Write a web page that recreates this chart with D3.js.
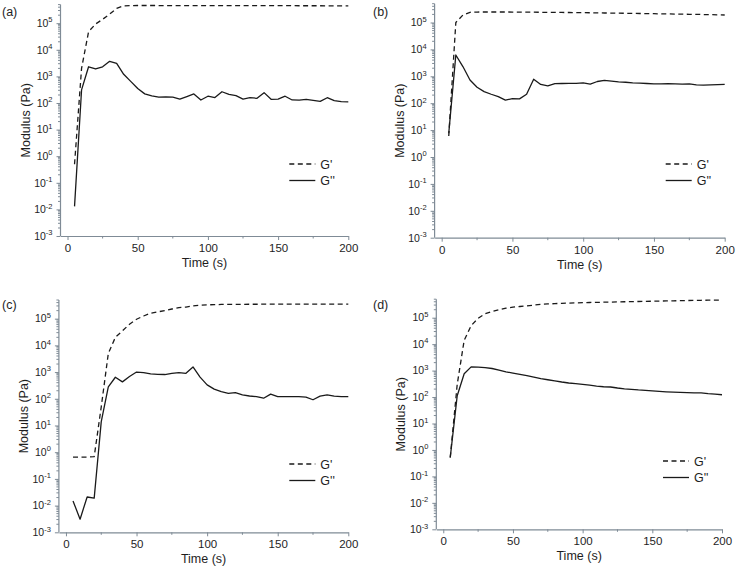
<!DOCTYPE html>
<html>
<head>
<meta charset="utf-8">
<script src="https://cdn.jsdelivr.net/npm/d3@7"></script>
<style>
  html, body { margin: 0; padding: 0; background: #ffffff; }
  svg { display: block; font-family: "Liberation Sans", Arial, sans-serif; }
</style>
</head>
<body>
<svg id="chart" width="737" height="570"></svg>
<script>
// ---- data (time in s, modulus in Pa) ----
const times = [5,10,15,20,25,30,35,40,45,50,55,60,65,70,75,80,85,90,95,100,
               105,110,115,120,125,130,135,140,145,150,155,160,165,170,175,180,185,190,195,200];

const panelLabels = ["(a)", "(b)", "(c)", "(d)"];
const seriesNames = ["G'", "G''"];
const xTickValues = [0, 50, 100, 150, 200];
const xMinorTicks = [25, 75, 125, 175];
const yTickExponents = [-3, -2, -1, 0, 1, 2, 3, 4, 5];

// (a)
const gpA = [0.5,2000,48000,93000,140000,220000,360000,450000,460000,462000,462000,462000,461000,461000,460000,460000,460000,460000,459000,459000,
             458000,458000,458000,457000,457000,456000,456000,455000,455000,455000,454000,454000,453000,453000,452000,452000,451000,451000,450000,450000];
const gppA = [0.013,310,2300,1900,2300,3700,3100,1200,650,350,220,185,165,170,165,140,175,220,130,180,
              160,265,210,190,140,158,150,245,138,140,180,130,128,138,126,115,158,122,112,110];
// (b)
const gpB = [6,100000,190000,240000,245000,246000,246000,246000,246000,245000,244000,243000,242000,240000,239000,238000,236000,235000,233000,232000,
             230000,228000,226000,224000,222000,220000,218000,216000,214000,212000,210000,208000,206000,204000,202000,200000,198000,196000,193000,190000];
const gppB = [7.6,6200,2300,730,390,270,215,175,130,148,145,215,780,500,440,530,540,545,550,570,
              510,640,700,660,620,600,570,560,540,520,520,530,520,510,520,480,470,480,490,500];
// (c)
const gpC = [0.65,0.65,0.65,0.68,50,5000,20000,35000,62000,95000,126000,160000,180000,200000,230000,260000,270000,300000,320000,330000,
             335000,340000,342000,344000,345000,346000,347000,348000,348000,349000,349000,350000,350000,350000,350000,350000,350000,350000,350000,350000];
const gppC = [0.015,0.0031,0.021,0.019,14,280,640,430,680,1000,950,850,820,810,890,950,900,1550,650,330,
              230,185,160,170,140,127,120,105,150,120,120,120,120,115,92,125,140,125,120,120];
// (d)
const gpD = [0.52,300,14000,50000,95000,140000,170000,200000,230000,250000,265000,280000,300000,320000,330000,340000,350000,355000,362000,370000,
             375000,380000,385000,390000,395000,400000,405000,410000,415000,420000,425000,430000,435000,440000,445000,450000,455000,458000,460000,465000];
const gppD = [0.52,112,760,1380,1350,1300,1200,1050,900,800,720,650,570,500,450,410,370,340,320,300,
              280,260,245,240,220,205,195,185,178,170,163,158,153,150,147,145,145,135,128,122];

const panelData = [[gpA, gppA], [gpB, gppB], [gpC, gppC], [gpD, gppD]];

// ---- layout (pixel boxes of each panel) ----
const layout = [
  { left: 60.5, right: 348.3, top: 4.6, bottom: 236.0, legY: 164, labX: 2,   labY: 16 },
  { left: 434.6, right: 724.7, top: 3.7, bottom: 237.7, legY: 164, labX: 373, labY: 16 },
  { left: 58.9, right: 348.3, top: 300.0, bottom: 532.3, legY: 464, labX: 2,   labY: 309 },
  { left: 436.3, right: 722.0, top: 299.2, bottom: 529.3, legY: 461, labX: 373, labY: 309 }
];

const axisColor = "#7f8b96";
const textColor = "#1e1e1e";
const lineColor = "#1a1a1a";

const svg = d3.select("#chart");

panelData.forEach((series, i) => {
  const L = layout[i];
  const g = svg.append("g");
  const x = d3.scaleLinear().domain([-5, 200]).range([L.left, L.right]);
  const y = d3.scaleLog().domain([1e-3, 5e5]).range([L.bottom, L.top]);

  // x axis
  const xAxis = g.append("g").attr("transform", `translate(0,${L.bottom})`)
    .call(d3.axisBottom(x).tickValues(xTickValues).tickSize(4).tickSizeOuter(0).tickPadding(4));
  xAxis.select(".domain").attr("stroke", axisColor).attr("stroke-width", 1.2);
  xAxis.selectAll(".tick line").attr("stroke", axisColor);
  xAxis.selectAll(".tick text").attr("fill", textColor).attr("font-size", 11.5)
    .attr("font-family", "Liberation Sans, Arial, sans-serif");
  g.append("g").attr("transform", `translate(0,${L.bottom})`)
    .selectAll("line").data(xMinorTicks).join("line")
    .attr("x1", d => x(d)).attr("x2", d => x(d)).attr("y1", 0).attr("y2", 2.5)
    .attr("stroke", axisColor);

  // y axis
  const majors = yTickExponents.map(e => Math.pow(10, e));
  const yAxis = g.append("g").attr("transform", `translate(${L.left},0)`)
    .call(d3.axisLeft(y).tickValues(majors).tickSize(4).tickSizeOuter(0).tickFormat(""));
  yAxis.select(".domain").attr("stroke", axisColor).attr("stroke-width", 1.2)
    .attr("d", `M0,${L.bottom}V${L.top}`);
  yAxis.selectAll(".tick line").attr("stroke", axisColor);
  const minors = y.ticks(100).filter(v => {
    const e = Math.log10(v);
    return Math.abs(e - Math.round(e)) > 1e-6;
  });
  g.append("g").attr("transform", `translate(${L.left},0)`)
    .selectAll("line").data(minors).join("line")
    .attr("x1", 0).attr("x2", -2.5).attr("y1", d => y(d)).attr("y2", d => y(d))
    .attr("stroke", axisColor);

  const yl = g.append("g").selectAll("text").data(yTickExponents).join("text")
    .attr("x", L.left - 8).attr("y", e => y(Math.pow(10, e)) + 3.8)
    .attr("text-anchor", "end").attr("fill", textColor).attr("font-size", 10.5);
  yl.append("tspan").text("10");
  yl.append("tspan").attr("dy", -4.5).attr("font-size", 7.5).text(e => String(e).replace("-", "-"));

  // axis titles
  g.append("text").attr("x", (L.left + L.right) / 2).attr("y", L.bottom + 31)
    .attr("text-anchor", "middle").attr("fill", textColor).attr("font-size", 12.5).text("Time (s)");
  g.append("text").attr("transform", `translate(${L.left - 31},${(L.top + L.bottom) / 2}) rotate(-90)`)
    .attr("text-anchor", "middle").attr("fill", textColor).attr("font-size", 12.5).text("Modulus (Pa)");

  // panel label
  g.append("text").attr("x", L.labX).attr("y", L.labY).attr("fill", textColor)
    .attr("font-size", 12.5).text(panelLabels[i]);

  // lines
  const line = d3.line().x((d, k) => x(times[k])).y(d => y(d));
  const dashes = ["5,3.5", null];
  series.forEach((vals, s) => {
    g.append("path").datum(vals).attr("d", line)
      .attr("fill", "none").attr("stroke", lineColor).attr("stroke-width", 1.3)
      .attr("stroke-linejoin", "round")
      .attr("stroke-dasharray", dashes[s]);
  });

  // legend
  seriesNames.forEach((name, s) => {
    const ly = L.legY + s * 16.5;
    g.append("line").attr("x1", L.right - 59).attr("x2", L.right - 33)
      .attr("y1", ly).attr("y2", ly).attr("stroke", lineColor).attr("stroke-width", 1.3)
      .attr("stroke-dasharray", dashes[s]);
    g.append("text").attr("x", L.right - 28).attr("y", ly + 4.5).attr("fill", textColor)
      .attr("font-size", 12.5).text(name);
  });
});
</script>
</body>
</html>
